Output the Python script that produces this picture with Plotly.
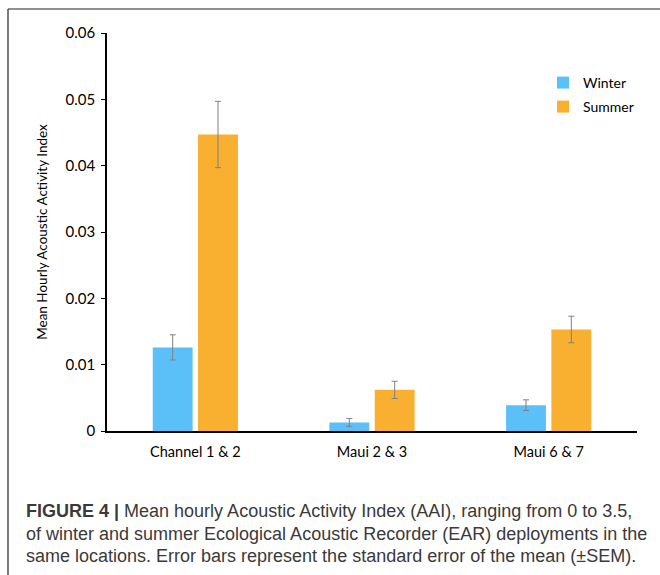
import plotly.graph_objects as go

categories = ["Channel 1 & 2", "Maui 2 & 3", "Maui 6 & 7"]
winter = [0.0126, 0.0013, 0.0039]
winter_err = [0.0019, 0.0006, 0.0008]
summer = [0.0447, 0.0062, 0.0153]
summer_err = [0.0050, 0.0013, 0.0020]
y_tickvals = [0, 0.01, 0.02, 0.03, 0.04, 0.05, 0.06]
y_ticktext = ["0", "0.01", "0.02", "0.03", "0.04", "0.05", "0.06"]

W, H = 660, 575
L, R, T, B = 107, 23, 33, 144
PW, PH = W - L - R, H - T - B

def px(x):
    return (x - L) / PW

def py(y):
    return (H - B - y) / PH

FONT = "Lato, Carlito, Calibri, sans-serif"

fig = go.Figure()
fig.add_trace(go.Bar(
    x=categories, y=winter, name="Winter",
    marker=dict(color="#5BC0F8", line=dict(width=0)),
    error_y=dict(type="data", array=winter_err, color="#808080", thickness=1, width=3),
    legend="legend",
))
fig.add_trace(go.Bar(
    x=categories, y=summer, name="Summer",
    marker=dict(color="#F9AF2F", line=dict(width=0)),
    error_y=dict(type="data", array=summer_err, color="#808080", thickness=1, width=3),
    legend="legend2",
))

fig.update_layout(
    width=W, height=H,
    margin=dict(l=L, r=R, t=T, b=B, pad=0),
    paper_bgcolor="white", plot_bgcolor="white",
    barmode="group", bargap=0.487, bargroupgap=0.12,
    font=dict(family=FONT, size=13, color="#000000"),
    legend=dict(x=px(543), y=py(83), xanchor="left", yanchor="middle",
                font=dict(family=FONT, size=14, color="#000"), bgcolor="rgba(0,0,0,0)"),
    legend2=dict(x=px(543), y=py(107), xanchor="left", yanchor="middle",
                 font=dict(family=FONT, size=14, color="#000"), bgcolor="rgba(0,0,0,0)"),
    showlegend=True,
)
fig.update_xaxes(
    showline=True, linecolor="#000", linewidth=1.5, ticks="", showgrid=False,
    tickfont=dict(family=FONT, size=14.5, color="#000"), ticklabelstandoff=7,
)
fig.update_yaxes(
    range=[0, 0.06], tickvals=y_tickvals, ticktext=y_ticktext,
    showline=True, linecolor="#000", linewidth=1.5, ticks="outside", ticklen=4,
    tickcolor="#000", showgrid=False, zeroline=False,
    tickfont=dict(family=FONT, size=15, color="#000"), ticklabelstandoff=3,
    title=dict(text="Mean Hourly Acoustic Activity Index", font=dict(family=FONT, size=13.5, color="#000"), standoff=15),
)

# frame lines
fig.add_shape(type="line", xref="paper", yref="paper", x0=px(8), x1=px(661), y0=py(9), y1=py(9),
              line=dict(color="#222", width=1.2))
fig.add_shape(type="line", xref="paper", yref="paper", x0=px(8), x1=px(8), y0=py(9), y1=py(576),
              line=dict(color="#222", width=1.2))

CAP = "Liberation Sans, Arial, Helvetica, sans-serif"
caption_lines = [
    "<b>FIGURE 4 |</b> Mean hourly Acoustic Activity Index (AAI), ranging from 0 to 3.5,",
    "of winter and summer Ecological Acoustic Recorder (EAR) deployments in the",
    "same locations. Error bars represent the standard error of the mean (±SEM).",
]
for i, (line, ypos) in enumerate(zip(caption_lines, [511, 533.5, 556])):
    fig.add_annotation(text=line, xref="paper", yref="paper", x=px(24), y=py(ypos),
                       xanchor="left", yanchor="middle", showarrow=False, align="left",
                       font=dict(family=CAP, size=18, color="#3a3a3a"))

fig.write_html("out.html", config={"displayModeBar": False},
               post_script="document.body.style.margin='0';document.body.style.overflow='hidden';")
